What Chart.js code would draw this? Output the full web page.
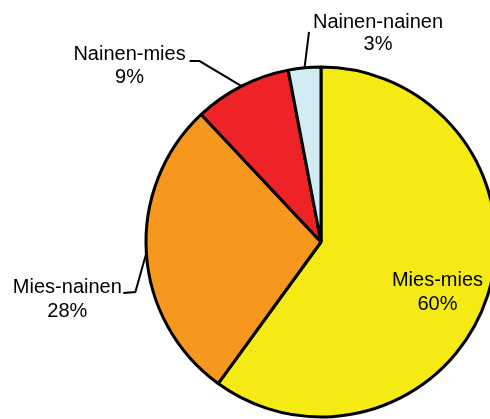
<!DOCTYPE html>
<html>
<head>
<meta charset="utf-8">
<script src="https://cdn.jsdelivr.net/npm/chart.js@4/dist/chart.umd.min.js"></script>
<style>
  html, body { margin: 0; padding: 0; background: #fff; overflow: hidden; }
  #wrap { width: 490px; height: 419px; position: relative; }
</style>
</head>
<body>
<div id="wrap"><canvas id="myChart"></canvas></div>
<script>
// data
const categories = ['Mies-mies', 'Mies-nainen', 'Nainen-mies', 'Nainen-nainen'];
const shares = [60, 28, 9, 3];
const sliceColors = ['#f5ea14', '#f7971e', '#ee2328', '#d3ebf3'];

// where each label sits, relative to the point on the slice it belongs to
const labelLayout = [
    { inside: true, r: 0.7, tx: 0, ty: [6, 30] },
    { r: 1, line: [[-11, 39], [-23, 40]], tx: -79, ty: [40, 64] },
    { r: 1, line: [[-42, -25], [-52, -25]], tx: -112, ty: [-26, -3] },
    { r: 1, line: [[4.5, -36]], tx: 73.5, ty: [-40, -18] }
];

const pieLabels = {
    id: 'pieLabels',
    afterDatasetsDraw(chart) {
        const c = chart.ctx;
        const arcs = chart.getDatasetMeta(0).data;
        c.save();
        c.font = '20px "Liberation Sans", Arial, sans-serif';
        c.fillStyle = '#000';
        c.strokeStyle = '#000';
        c.lineWidth = 2;
        c.textAlign = 'center';
        c.textBaseline = 'alphabetic';
        arcs.forEach((arc, i) => {
            const lay = labelLayout[i];
            const p = arc.getProps(['x', 'y', 'startAngle', 'endAngle', 'outerRadius'], true);
            const mid = (p.startAngle + p.endAngle) / 2;
            const ax = p.x + Math.cos(mid) * p.outerRadius * lay.r;
            const ay = p.y + Math.sin(mid) * p.outerRadius * lay.r;
            if (lay.line) {
                c.beginPath();
                c.moveTo(ax, ay);
                lay.line.forEach(pt => c.lineTo(ax + pt[0], ay + pt[1]));
                c.stroke();
            }
            c.fillText(categories[i], ax + lay.tx, ay + lay.ty[0]);
            c.fillText(shares[i] + '%', ax + lay.tx, ay + lay.ty[1]);
        });
        c.restore();
    }
};

let ctx = document.getElementById('myChart').getContext('2d');
let myChart = new Chart(ctx, {
    type: 'pie',
    data: {
        labels: categories,
        datasets: [{
            data: shares,
            backgroundColor: sliceColors,
            borderColor: '#000',
            borderWidth: 3,
            clip: false
        }]
    },
    options: {
        responsive: true,
        maintainAspectRatio: false,
        animation: false,
        radius: 175,
        layout: {
            padding: { left: 152, right: 0, top: 65, bottom: 0 }
        },
        plugins: {
            legend: { display: false },
            tooltip: { enabled: false }
        }
    },
    plugins: [pieLabels]
});
</script>
</body>
</html>
